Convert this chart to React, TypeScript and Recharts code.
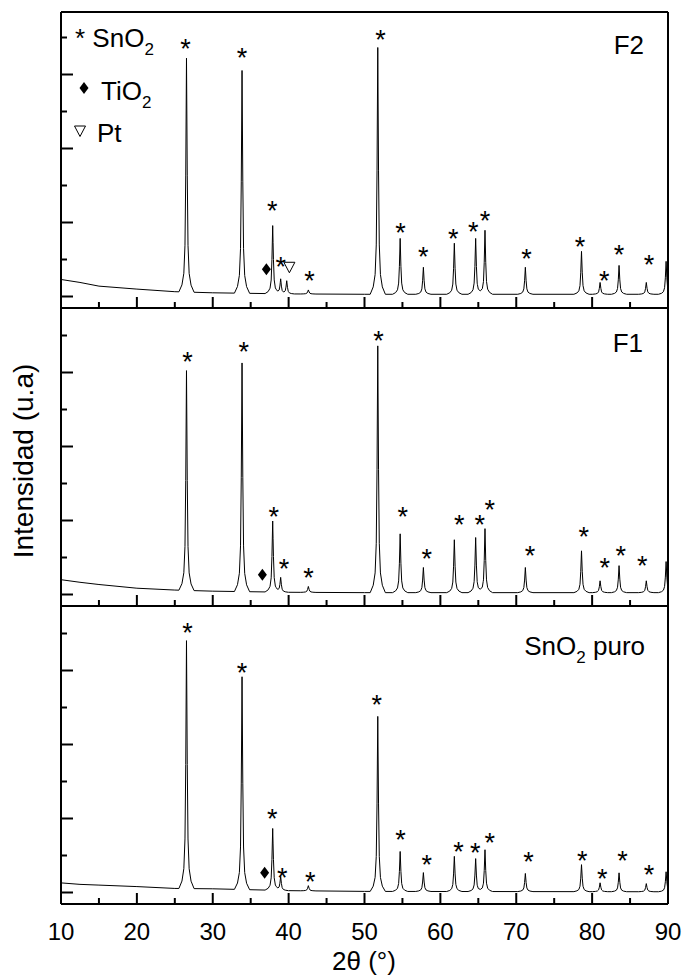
import React from 'react';
import { ComposedChart, Line, Scatter, XAxis, YAxis } from 'recharts';

// 2-theta positions of the SnO2 reflections (shared by all three patterns)
const PEAK_POS = [26.54, 33.86, 37.9, 38.95, 42.6, 51.75, 54.7, 57.76, 61.84, 64.65, 65.88, 71.2, 78.6, 81.05, 83.55, 87.14, 89.75];
// peak heights above background (a.u.)
const F2_H = [3160, 3010, 920, 200, 55, 3335, 755, 365, 690, 755, 865, 365, 580, 160, 390, 160, 445];
const F1_H = [2970, 3090, 960, 200, 80, 3335, 795, 340, 715, 745, 865, 340, 565, 160, 365, 160, 420];
const PURO_H = [3350, 2875, 835, 190, 70, 2365, 540, 255, 475, 445, 565, 245, 365, 120, 255, 110, 270];
// Pt reflection, only in F2
const PT_POS = [39.75];
const F2_PT_H = [175];

// low-angle background
const BG_X = [10, 12.5, 15, 20, 25, 30, 40, 50, 90];
const F2_BG = [200, 160, 110, 70, 35, 20, 5, 0, 0];
const F1_BG = [175, 140, 110, 60, 35, 20, 5, 0, 0];
const PURO_BG = [120, 100, 90, 70, 45, 40, 15, 5, 0];
const F2_BASE = 30;
const F1_BASE = 25;
const PURO_BASE = 10;

// phase markers: [2theta, height, symbol] ('*' SnO2, 'd' TiO2, 't' Pt)
const F2_MARKS: [number, number, string][] = [
  [26.4, 3432, '*'], [33.86, 3310, '*'], [37.85, 1232, '*'], [37.07, 368, 'd'], [38.95, 476, '*'],
  [40.1, 395, 't'], [42.76, 287, '*'], [52.1, 3554, '*'], [54.74, 935, '*'], [57.76, 611, '*'],
  [61.7, 854, '*'], [64.34, 948, '*'], [65.88, 1097, '*'], [71.36, 584, '*'], [78.4, 746, '*'],
  [81.6, 287, '*'], [83.55, 638, '*'], [87.5, 503, '*'],
];
const F1_MARKS: [number, number, string][] = [
  [26.67, 3225, '*'], [34.1, 3360, '*'], [38.03, 1132, '*'], [36.54, 268, 'd'], [39.4, 430, '*'],
  [42.63, 309, '*'], [51.84, 3508, '*'], [55.04, 1132, '*'], [58.2, 565, '*'], [62.5, 1024, '*'],
  [65.2, 1024, '*'], [66.5, 1227, '*'], [71.8, 606, '*'], [78.9, 862, '*'], [81.67, 444, '*'],
  [83.78, 606, '*'], [86.6, 471, '*'],
];
const PURO_MARKS: [number, number, string][] = [
  [26.67, 3588, '*'], [33.86, 3048, '*'], [37.85, 1077, '*'], [36.84, 267, 'd'], [39.17, 280, '*'],
  [42.86, 226, '*'], [51.6, 2616, '*'], [54.74, 793, '*'], [58.2, 456, '*'], [62.4, 631, '*'],
  [64.6, 618, '*'], [66.5, 753, '*'], [71.6, 496, '*'], [78.7, 510, '*'], [81.35, 267, '*'],
  [84.0, 510, '*'], [87.5, 321, '*'],
];

const X_TICKS = [10, 15, 20, 25, 30, 35, 40, 45, 50, 55, 60, 65, 70, 75, 80, 85, 90];
const Y_TICKS = [0, 500, 1000, 1500, 2000, 2500, 3000, 3500];

const FONT = "'Liberation Sans', Arial, Helvetica, sans-serif";
const K = 500 / 37; // a.u. per pixel
const AX = { stroke: '#000', strokeWidth: 2 };

// narrow peak shape used to draw each reflection
const PROF_DX = [-1, -0.6, -0.35, -0.2, -0.1, 0, 0.1, 0.2, 0.35, 0.6, 1];
const PROF_F = [0, 0.03, 0.08, 0.2, 0.5, 1, 0.5, 0.2, 0.08, 0.03, 0];

const lerp = (xs: number[], ys: number[], x: number) => {
  if (x <= xs[0]) return ys[0];
  for (let i = 1; i < xs.length; i++) {
    if (x <= xs[i]) {
      const t = (x - xs[i - 1]) / (xs[i] - xs[i - 1]);
      return ys[i - 1] + t * (ys[i] - ys[i - 1]);
    }
  }
  return ys[ys.length - 1];
};

const buildPattern = (bg: number[], base: number, pos: number[], h: number[]) => {
  const xs = new Set<number>(BG_X);
  pos.forEach(p => PROF_DX.forEach(d => {
    const x = +(p + d).toFixed(3);
    if (x >= 10 && x <= 90) xs.add(x);
  }));
  xs.add(90);
  return Array.from(xs).sort((a, b) => a - b).map(x => {
    let y = base + lerp(BG_X, bg, x);
    pos.forEach((p, i) => {
      const d = x - p;
      if (d > -1 && d < 1) y += h[i] * lerp(PROF_DX, PROF_F, d);
    });
    return { x, y };
  });
};

const toMarks = (m: [number, number, string][]) => m.map(([x, y, s]) => ({ x, y, s }));

const F2_DATA = buildPattern(F2_BG, F2_BASE, [...PEAK_POS, ...PT_POS], [...F2_H, ...F2_PT_H]);
const F1_DATA = buildPattern(F1_BG, F1_BASE, PEAK_POS, F1_H);
const PURO_DATA = buildPattern(PURO_BG, PURO_BASE, PEAK_POS, PURO_H);

const XTick = (props: any) => {
  const { x, y, payload, showLabel } = props;
  const major = payload.value % 10 === 0;
  return (
    <g>
      <line x1={x} x2={x} y1={y} y2={y - (major ? 11 : 6)} stroke="#000" strokeWidth={2} />
      {showLabel && major && (
        <text x={x} y={y + 36} textAnchor="middle" fontSize={24} fontFamily={FONT} fill="#000">
          {payload.value}
        </text>
      )}
    </g>
  );
};

const YTick = (props: any) => {
  const { x, y, payload } = props;
  const long = (payload.value / 500) % 2 === 0;
  return <line x1={x} x2={x + (long ? 12 : 6)} y1={y} y2={y} stroke="#000" strokeWidth={2} />;
};

const Mark = (props: any) => {
  const { cx, cy, payload } = props;
  if (payload.s === '*') {
    return (
      <text x={cx} y={cy + 15} textAnchor="middle" fontSize={27} fontFamily={FONT} fill="#000">*</text>
    );
  }
  if (payload.s === 'd') {
    return <path d={`M${cx},${cy - 6}L${cx + 4.5},${cy}L${cx},${cy + 6}L${cx - 4.5},${cy}Z`} fill="#000" />;
  }
  return <path d={`M${cx - 5.5},${cy - 5}L${cx + 5.5},${cy - 5}L${cx},${cy + 5.5}Z`} fill="none" stroke="#000" strokeWidth={1} />;
};

const Panel = ({ top, height, data, marks, last }: any) => {
  const pad = last ? 72 : 2;
  const domain = [-11.5 * K, (height - 11.5) * K];
  return (
    <div style={{ position: 'absolute', left: 0, top: top - 2 }}>
      <ComposedChart width={682} height={height + 2 + pad} margin={{ top: 0, right: 12, bottom: pad - 1, left: 51 }}>
        <XAxis
          type="number" dataKey="x" domain={[10, 90]} ticks={X_TICKS} interval={0} height={1}
          tickSize={0} tickMargin={0} tickLine={false} axisLine={AX} allowDataOverflow
          tick={(p: any) => <XTick {...p} showLabel={last} />}
        />
        <XAxis xAxisId="top" orientation="top" type="number" domain={[10, 90]} height={2} tick={false} tickLine={false} axisLine={AX} />
        <YAxis
          type="number" dataKey="y" domain={domain} ticks={Y_TICKS} interval={0} width={10}
          tickSize={0} tickMargin={0} tickLine={false} axisLine={AX} allowDataOverflow tick={YTick}
        />
        <YAxis yAxisId="right" orientation="right" type="number" domain={domain} width={2} tick={false} tickLine={false} axisLine={AX} />
        <Line data={data} dataKey="y" type="linear" stroke="#000" strokeWidth={1} dot={false} isAnimationActive={false} />
        <Scatter data={marks} dataKey="y" shape={Mark} isAnimationActive={false} />
      </ComposedChart>
    </div>
  );
};

export default function App() {
  const t = { fontFamily: FONT, fill: '#000' };
  return (
    <div style={{ position: 'absolute', left: 0, top: 0, width: 682, height: 978, background: '#fff' }}>
      <Panel top={12} height={296} data={F2_DATA} marks={toMarks(F2_MARKS)} />
      <Panel top={308} height={298} data={F1_DATA} marks={toMarks(F1_MARKS)} />
      <Panel top={606} height={298} data={PURO_DATA} marks={toMarks(PURO_MARKS)} last />
      <svg width={682} height={978} style={{ position: 'absolute', left: 0, top: 0, pointerEvents: 'none' }}>
        <text x={75} y={47} fontSize={26} {...t}>* SnO<tspan fontSize={17} dy={8}>2</tspan></text>
        <path d="M84,82L88.5,88L84,94L79.5,88Z" fill="#000" />
        <text x={101} y={100} fontSize={26} {...t}>TiO<tspan fontSize={17} dy={8}>2</tspan></text>
        <path d="M74.5,126L85.5,126L80,136.5Z" fill="none" stroke="#000" strokeWidth={1} />
        <text x={97} y={142} fontSize={26} {...t}>Pt</text>
        <text x={644} y={54} fontSize={26} textAnchor="end" {...t}>F2</text>
        <text x={643} y={352} fontSize={26} textAnchor="end" {...t}>F1</text>
        <text x={645} y={655} fontSize={26} textAnchor="end" {...t}>
          SnO<tspan fontSize={17} dy={8}>2</tspan><tspan dy={-8}> puro</tspan>
        </text>
        <text x={364} y={970} fontSize={26} textAnchor="middle" {...t}>2θ (°)</text>
        <text x={33} y={461} fontSize={28} textAnchor="middle" transform="rotate(-90 33 461)" {...t}>
          Intensidad (u.a)
        </text>
      </svg>
    </div>
  );
}
